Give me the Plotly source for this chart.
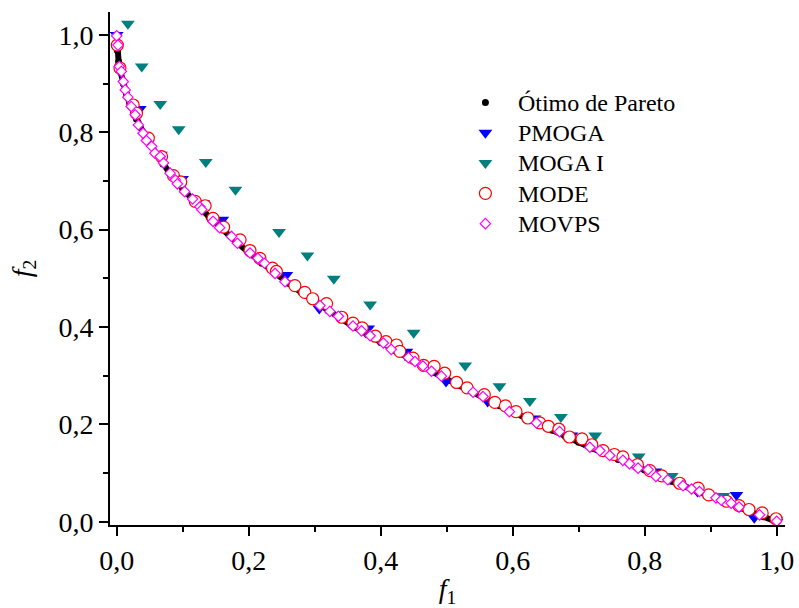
import plotly.graph_objects as go

# Pareto-optimal front (f1, f2)
pareto_f1 = [0.000, 0.001, 0.003, 0.006, 0.010, 0.015, 0.020, 0.030, 0.040, 0.050,
             0.060, 0.070, 0.080, 0.090, 0.100, 0.120, 0.140, 0.160, 0.180, 0.200,
             0.220, 0.240, 0.260, 0.280, 0.300, 0.320, 0.340, 0.360, 0.380, 0.400,
             0.420, 0.440, 0.460, 0.480, 0.500, 0.520, 0.540, 0.560, 0.580, 0.600,
             0.620, 0.640, 0.660, 0.680, 0.700, 0.720, 0.740, 0.760, 0.780, 0.800,
             0.820, 0.840, 0.860, 0.880, 0.900, 0.920, 0.940, 0.960, 0.980, 1.000]
pareto_f2 = [1.000, 0.968, 0.945, 0.923, 0.900, 0.878, 0.859, 0.827, 0.800, 0.776,
             0.755, 0.735, 0.717, 0.700, 0.684, 0.654, 0.626, 0.600, 0.576, 0.553,
             0.531, 0.510, 0.490, 0.471, 0.452, 0.434, 0.417, 0.400, 0.384, 0.368,
             0.352, 0.337, 0.322, 0.307, 0.293, 0.279, 0.265, 0.252, 0.238, 0.225,
             0.213, 0.200, 0.188, 0.175, 0.163, 0.151, 0.140, 0.128, 0.117, 0.106,
             0.094, 0.083, 0.073, 0.062, 0.051, 0.041, 0.030, 0.020, 0.010, 0.000]

# PMOGA
pmoga_f1 = [0.000, 0.035, 0.067, 0.099, 0.131, 0.160, 0.257, 0.307, 0.381, 0.439,
            0.499, 0.562, 0.633, 0.689, 0.751, 0.816, 0.880, 0.939, 0.966, 1.000]
pmoga_f2 = [1.000, 0.848, 0.754, 0.704, 0.654, 0.620, 0.507, 0.438, 0.397, 0.349,
            0.288, 0.247, 0.212, 0.177, 0.140, 0.103, 0.062, 0.055, 0.008, 0.000]

# MOGA I
moga_f1 = [0.017, 0.038, 0.066, 0.094, 0.135, 0.180, 0.246, 0.289, 0.329, 0.384,
           0.450, 0.528, 0.580, 0.626, 0.673, 0.725, 0.791, 0.841, 0.919, 1.000]
moga_f2 = [1.023, 0.935, 0.858, 0.806, 0.739, 0.682, 0.595, 0.547, 0.499, 0.446,
           0.388, 0.321, 0.278, 0.248, 0.215, 0.177, 0.134, 0.094, 0.053, 0.004]

# MODE
mode_f1 = [0.001, 0.005, 0.025, 0.030, 0.048, 0.068, 0.086, 0.097, 0.119, 0.134,
           0.146, 0.162, 0.187, 0.202, 0.217, 0.236, 0.242, 0.270, 0.285, 0.297,
           0.318, 0.341, 0.358, 0.372, 0.392, 0.408, 0.424, 0.429, 0.449, 0.465,
           0.481, 0.497, 0.515, 0.531, 0.557, 0.573, 0.589, 0.605, 0.623, 0.641,
           0.654, 0.670, 0.686, 0.705, 0.720, 0.737, 0.754, 0.767, 0.789, 0.808,
           0.826, 0.853, 0.881, 0.897, 0.924, 0.943, 0.958, 0.978, 0.999]
mode_f2 = [0.979, 0.932, 0.856, 0.839, 0.788, 0.750, 0.711, 0.698, 0.658, 0.649,
           0.623, 0.605, 0.579, 0.557, 0.541, 0.521, 0.514, 0.485, 0.471, 0.458,
           0.448, 0.420, 0.408, 0.398, 0.381, 0.370, 0.363, 0.350, 0.336, 0.321,
           0.319, 0.305, 0.286, 0.275, 0.261, 0.245, 0.238, 0.226, 0.213, 0.203,
           0.196, 0.190, 0.174, 0.170, 0.158, 0.146, 0.138, 0.133, 0.117, 0.105,
           0.094, 0.079, 0.069, 0.055, 0.042, 0.033, 0.025, 0.018, 0.006]

# MOVPS
movps_f1 = [0.000, 0.002, 0.004, 0.007, 0.010, 0.013, 0.017, 0.022, 0.028, 0.033,
            0.040, 0.045, 0.053, 0.058, 0.066, 0.071, 0.081, 0.089, 0.092, 0.103,
            0.115, 0.126, 0.129, 0.146, 0.156, 0.174, 0.183, 0.202, 0.214, 0.224,
            0.240, 0.255, 0.308, 0.323, 0.336, 0.358, 0.371, 0.384, 0.404, 0.416,
            0.442, 0.452, 0.464, 0.477, 0.492, 0.540, 0.555, 0.595, 0.636, 0.671,
            0.717, 0.732, 0.747, 0.767, 0.777, 0.790, 0.805, 0.817, 0.835, 0.858,
            0.871, 0.883, 0.908, 0.916, 0.931, 0.943, 0.974, 1.000]
movps_f2 = [0.998, 0.979, 0.935, 0.925, 0.904, 0.887, 0.872, 0.853, 0.836, 0.815,
            0.798, 0.783, 0.771, 0.757, 0.750, 0.737, 0.716, 0.702, 0.694, 0.678,
            0.663, 0.647, 0.641, 0.617, 0.604, 0.586, 0.572, 0.552, 0.541, 0.531,
            0.510, 0.493, 0.444, 0.432, 0.422, 0.402, 0.392, 0.382, 0.367, 0.354,
            0.337, 0.329, 0.320, 0.309, 0.299, 0.266, 0.257, 0.226, 0.203, 0.185,
            0.153, 0.146, 0.136, 0.126, 0.119, 0.110, 0.107, 0.093, 0.086, 0.074,
            0.067, 0.062, 0.049, 0.044, 0.038, 0.030, 0.014, 0.001]

SERIF = "Liberation Serif"


def legend_label(text):
    # legend rows are spaced by the legend font size; the label itself is drawn larger
    return f'<span style="font-size:24px">{text}</span>'


fig = go.Figure()

# dense front drawn as a thick band under its dots
fig.add_trace(go.Scatter(x=pareto_f1, y=pareto_f2, mode="lines",
                         line=dict(color="black", width=6),
                         showlegend=False, hoverinfo="skip"))
fig.add_trace(go.Scatter(x=pareto_f1, y=pareto_f2, mode="markers",
                         name=legend_label("Ótimo de Pareto"),
                         marker=dict(symbol="circle", size=7, color="black")))
fig.add_trace(go.Scatter(x=pmoga_f1, y=pmoga_f2, mode="markers", name=legend_label("PMOGA"),
                         marker=dict(symbol="triangle-down", size=12, color="#0000FF")))
fig.add_trace(go.Scatter(x=moga_f1, y=moga_f2, mode="markers", name=legend_label("MOGA I"),
                         marker=dict(symbol="triangle-down", size=12, color="#007F7F")))
fig.add_trace(go.Scatter(x=mode_f1, y=mode_f2, mode="markers", name=legend_label("MODE"),
                         marker=dict(symbol="circle", size=12, color="white",
                                     line=dict(color="#FF0000", width=1.2))))
fig.add_trace(go.Scatter(x=movps_f1, y=movps_f2, mode="markers", name=legend_label("MOVPS"),
                         marker=dict(symbol="diamond", size=8, color="white",
                                     line=dict(color="#FF00FF", width=1.2))))

axis_common = dict(
    showline=True, linecolor="black", linewidth=2,
    ticks="outside", ticklen=9, tickwidth=2, tickcolor="black",
    minor=dict(ticks="outside", ticklen=5, tickwidth=2, tickcolor="black", dtick=0.1),
    dtick=0.2, tick0=0, tickformat=".1f",
    showgrid=False, zeroline=False, mirror=False, automargin=False,
    tickfont=dict(family=SERIF, size=28, color="black"),
)

fig.update_layout(
    width=799, height=608,
    margin=dict(l=110, r=14, t=12, b=83),
    plot_bgcolor="white", paper_bgcolor="white",
    separators=", ",
    font=dict(family=SERIF, color="black"),
    xaxis=dict(range=[-0.0101, 1.0126],
               title=dict(text="<i>f</i><sub>1</sub>", font=dict(family=SERIF, size=28),
                          standoff=4),
               **axis_common),
    yaxis=dict(range=[-0.0068, 1.047],
               title=dict(text="<i>f</i><sub>2</sub>", font=dict(family=SERIF, size=28),
                          standoff=19),
               **axis_common),
    legend=dict(x=0.508, y=0.863, xanchor="left", yanchor="top",
                bgcolor="rgba(0,0,0,0)", font=dict(family=SERIF, size=21),
                itemsizing="trace", itemwidth=55, tracegroupgap=0),
)

fig.write_html("out.html")
